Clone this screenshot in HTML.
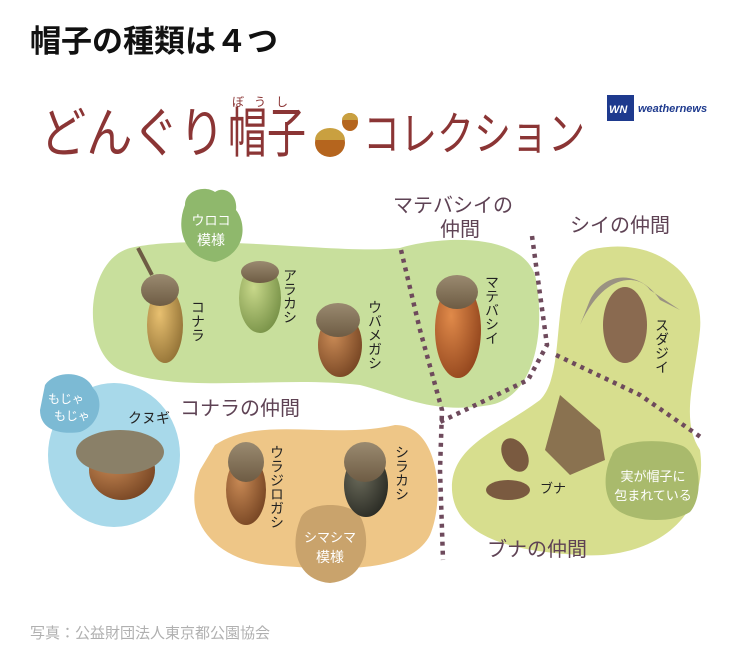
<!DOCTYPE html>
<html><head><meta charset="utf-8"><style>
body{margin:0;background:#fff;width:750px;height:659px;overflow:hidden;font-family:"Liberation Sans","Noto Sans CJK JP",sans-serif}
</style></head><body>
<svg width="750" height="659" viewBox="0 0 750 659" xmlns="http://www.w3.org/2000/svg" style="font-family:'Liberation Sans','Noto Sans CJK JP',sans-serif">
<defs>
<linearGradient id="cap" x1="0" y1="0" x2="0" y2="1"><stop offset="0" stop-color="#9a8a70"/><stop offset="1" stop-color="#6e5c44"/></linearGradient>
<radialGradient id="nutB" cx="0.35" cy="0.35" r="0.8"><stop offset="0" stop-color="#c98a55"/><stop offset="1" stop-color="#6e3e1e"/></radialGradient>
<radialGradient id="nutY" cx="0.35" cy="0.35" r="0.8"><stop offset="0" stop-color="#e8c070"/><stop offset="1" stop-color="#8a6a30"/></radialGradient>
<radialGradient id="nutG" cx="0.35" cy="0.35" r="0.8"><stop offset="0" stop-color="#c8d88a"/><stop offset="1" stop-color="#6f8a40"/></radialGradient>
<radialGradient id="nutO" cx="0.35" cy="0.35" r="0.8"><stop offset="0" stop-color="#e08a4a"/><stop offset="1" stop-color="#8a3e18"/></radialGradient>
<radialGradient id="nutK" cx="0.35" cy="0.35" r="0.8"><stop offset="0" stop-color="#6a6a5a"/><stop offset="1" stop-color="#23241e"/></radialGradient>
</defs>
<text x="30" y="52" font-size="31" font-weight="bold" fill="#111">帽子の種類は４つ</text>
<text x="40" y="152" font-size="54" fill="#8b3535" textLength="185" lengthAdjust="spacingAndGlyphs">どんぐり</text>
<text x="228" y="152" font-size="54" fill="#8b3535" textLength="78" lengthAdjust="spacingAndGlyphs">帽子</text>
<text x="232" y="106" font-size="12" fill="#8b3535" letter-spacing="10">ぼうし</text>
<ellipse cx="330" cy="143" rx="15" ry="14" fill="#b5651e"/><path d="M315 140 a15 12 0 0 1 30 0z" fill="#c9a040"/>
<ellipse cx="350" cy="122" rx="8" ry="9" fill="#b5651e"/><path d="M342 120 a8 7 0 0 1 16 0z" fill="#c9a040"/>
<text x="363" y="150" font-size="46" fill="#8b3535" textLength="222" lengthAdjust="spacingAndGlyphs">コレクション</text>
<rect x="607" y="95" width="27" height="26" fill="#1e3a8e"/><text x="609" y="113" font-size="11" font-weight="bold" fill="#fff" font-style="italic">WN</text>
<text x="638" y="112" font-size="11" fill="#1e3a8e" font-style="italic" font-weight="bold">weathernews</text>
<path d="M130 248 C200 232 340 255 400 248 C440 236 520 232 535 275 C545 320 540 395 490 405 C430 415 400 395 360 385 C280 375 180 395 120 370 C80 350 85 260 130 248Z" fill="#c8df9c"/>
<path d="M590 250 C650 235 705 270 700 330 C695 380 680 420 700 450 C710 520 650 560 580 555 C520 552 455 540 452 490 C450 445 500 430 540 400 C570 370 545 270 590 250Z" fill="#d7de8e"/>
<ellipse cx="114" cy="455" rx="66" ry="72" fill="#a8d9ea"/>
<path d="M215 445 C260 415 330 440 395 425 C440 425 445 500 430 535 C410 575 330 570 270 565 C215 560 180 520 200 470Z" fill="#eec687"/>
<path d="M185 205 C185 190 205 185 215 192 C225 185 238 195 236 210 C248 225 245 255 215 262 C185 258 175 230 185 205Z" fill="#8fb86c"/>
<text x="211" y="225" font-size="13" fill="#fff" text-anchor="middle">ウロコ</text><text x="211" y="245" font-size="14" fill="#fff" text-anchor="middle">模様</text>
<path d="M45 385 C55 370 85 370 93 388 C105 400 100 425 80 432 C60 435 40 430 40 410Z" fill="#7cbad4"/>
<text x="66" y="403" font-size="12" fill="#fff" text-anchor="middle">もじゃ</text><text x="72" y="420" font-size="12" fill="#fff" text-anchor="middle">もじゃ</text>
<path d="M300 520 C305 500 355 500 362 520 C372 545 365 580 330 583 C295 580 290 545 300 520Z" fill="#c9a36c"/>
<text x="330" y="542" font-size="13" fill="#fff" text-anchor="middle">シマシマ</text><text x="330" y="562" font-size="14" fill="#fff" text-anchor="middle">模様</text>
<path d="M612 455 C615 440 660 438 680 445 C700 450 705 495 690 512 C670 525 625 522 612 505 C602 490 605 468 612 455Z" fill="#a9ba6c"/>
<text x="653" y="481" font-size="13" fill="#fff" text-anchor="middle">実が帽子に</text><text x="653" y="500" font-size="13" fill="#fff" text-anchor="middle">包まれている</text>
<g stroke="#6e4a5c" stroke-width="4.5" stroke-dasharray="4 5" fill="none">
<path d="M401 250 L420 330 L442 410 L440 470 L443 560"/>
<path d="M532 236 L547 345 L528 380 L440 422"/>
<path d="M556 355 L640 395 L702 438"/>
</g>
<g>
<line x1="138" y1="248" x2="152" y2="275" stroke="#6e5c44" stroke-width="4"/>
<ellipse cx="165" cy="325" rx="18" ry="38" fill="url(#nutY)"/><ellipse cx="160" cy="290" rx="19" ry="16" fill="url(#cap)"/>
<ellipse cx="260" cy="298" rx="21" ry="35" fill="url(#nutG)"/><ellipse cx="260" cy="272" rx="19" ry="11" fill="url(#cap)"/>
<ellipse cx="340" cy="345" rx="22" ry="32" fill="url(#nutB)"/><ellipse cx="338" cy="320" rx="22" ry="17" fill="url(#cap)"/>
<ellipse cx="458" cy="330" rx="23" ry="48" fill="url(#nutO)"/><ellipse cx="457" cy="292" rx="21" ry="17" fill="url(#cap)"/>
<ellipse cx="625" cy="325" rx="22" ry="38" fill="#8a6a50"/><path d="M590 300 C605 270 640 270 660 300 L680 310 L650 290 C640 275 605 270 580 325Z" fill="#9a9282"/>
<ellipse cx="122" cy="470" rx="33" ry="30" fill="url(#nutB)"/><ellipse cx="120" cy="452" rx="44" ry="22" fill="#8a8068"/>
<ellipse cx="246" cy="490" rx="20" ry="35" fill="url(#nutB)"/><ellipse cx="246" cy="462" rx="18" ry="20" fill="url(#cap)"/>
<ellipse cx="366" cy="485" rx="22" ry="32" fill="url(#nutK)"/><ellipse cx="365" cy="462" rx="21" ry="20" fill="url(#cap)"/>
<ellipse cx="515" cy="455" rx="12" ry="18" fill="#7a5a40" transform="rotate(-30 515 455)"/>
<ellipse cx="508" cy="490" rx="22" ry="10" fill="#7a5a40"/>
<path d="M545 450 L560 395 L600 430 L605 460 L570 475Z" fill="#8a7250"/>
</g>
<g font-size="14" fill="#222">
<text x="198" y="300" writing-mode="tb">コナラ</text>
<text x="290" y="268" writing-mode="tb">アラカシ</text>
<text x="375" y="300" writing-mode="tb">ウバメガシ</text>
<text x="492" y="275" writing-mode="tb">マテバシイ</text>
<text x="662" y="318" writing-mode="tb">スダジイ</text>
<text x="277" y="445" writing-mode="tb">ウラジロガシ</text>
<text x="402" y="445" writing-mode="tb">シラカシ</text>
</g>
<text x="128" y="423" font-size="14" fill="#222">クヌギ</text>
<text x="540" y="493" font-size="13" fill="#222">ブナ</text>
<g font-size="20" fill="#5e4254">
<text x="393" y="212">マテバシイの</text><text x="440" y="236">仲間</text>
<text x="570" y="232">シイの仲間</text>
<text x="180" y="415">コナラの仲間</text>
<text x="487" y="556">ブナの仲間</text>
</g>
<text x="30" y="638" font-size="15" fill="#b0b0b0">写真：公益財団法人東京都公園協会</text>
</svg>
</body></html>
